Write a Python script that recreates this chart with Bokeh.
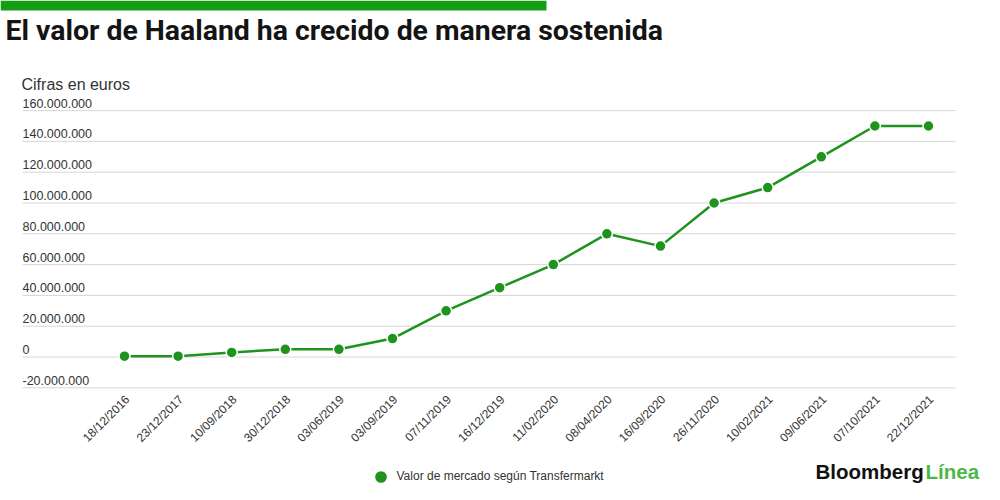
import math
from bokeh.plotting import figure
from bokeh.models import (Range1d, Label, BoxAnnotation, Legend, LegendItem,
                          ColumnDataSource)
from bokeh.core.properties import value
from bokeh.embed import file_html
from bokeh.resources import INLINE

# ---------------- data ----------------
fechas = ["18/12/2016", "23/12/2017", "10/09/2018", "30/12/2018", "03/06/2019",
          "03/09/2019", "07/11/2019", "16/12/2019", "11/02/2020", "08/04/2020",
          "16/09/2020", "26/11/2020", "10/02/2021", "09/06/2021", "07/10/2021",
          "22/12/2021"]
valores = [500000, 500000, 3000000, 5000000, 5000000,
           12000000, 30000000, 45000000, 60000000, 80000000,
           72000000, 100000000, 110000000, 130000000, 150000000,
           150000000]
y_ticks = [-20000000, 0, 20000000, 40000000, 60000000, 80000000,
           100000000, 120000000, 140000000, 160000000]
y_tick_labels = ["-20.000.000", "0", "20.000.000", "40.000.000", "60.000.000",
                 "80.000.000", "100.000.000", "120.000.000", "140.000.000",
                 "160.000.000"]
titulo = "El valor de Haaland ha crecido de manera sostenida"
subtitulo = "Cifras en euros"
serie = "Valor de mercado según Transfermarkt"

GREEN = "#1e931e"
BAR_GREEN = "#149e14"
TEXT = "#333333"
FONT = "Liberation Sans"

W, H = 984, 484
# whole canvas is the frame; linear px <-> data mapping
PX0, PXS = 124.0, 53.6          # canvas x of first point, px per category
PY0, PYS = 356.5, 1.54e-6       # canvas y of zero, px per euro

X0, X1 = (0 - PX0) / PXS, (W - PX0) / PXS
Y1, Y0 = PY0 / PYS, -(H - PY0) / PYS

p = figure(width=W, height=H, output_backend="svg", toolbar_location=None,
           x_range=Range1d(X0, X1), y_range=Range1d(Y0, Y1),
           min_border=0, background_fill_color="white",
           border_fill_color="white")
p.outline_line_color = None
p.axis.visible = False
p.grid.visible = False


def dx(px):
    return X0 + px / PXS


def dy(py):
    return Y1 - py / PYS


GL, GR = 22, 955   # gridline extent (canvas px)

# gridlines
grid_src = ColumnDataSource(dict(x0=[dx(GL)] * len(y_ticks),
                                 x1=[dx(GR)] * len(y_ticks), y=y_ticks,
                                 t=y_tick_labels))
p.segment(x0="x0", y0="y", x1="x1", y1="y", source=grid_src,
          line_color="#d6d6d6", line_width=1)
# y tick labels above gridlines
p.text(x="x0", y="y", text="t", source=grid_src, text_font=value(FONT),
       text_font_size="12.5px", text_color=TEXT, text_align="left",
       text_baseline="bottom", y_offset=-3)

xs = list(range(len(fechas)))

# x tick labels, rotated 45 degrees
date_src = ColumnDataSource(dict(x=xs, y=[dy(397)] * len(xs), t=fechas))
p.text(x="x", y="y", text="t", source=date_src, angle=math.pi / 4,
       text_font=value(FONT), text_font_size="12px", text_color=TEXT,
       text_align="right", text_baseline="middle", x_offset=3)

# series
src = ColumnDataSource(dict(x=xs, y=valores))
p.line(x="x", y="y", source=src, line_color=GREEN, line_width=2.5)
pts = p.scatter(x="x", y="y", source=src, size=11, fill_color=GREEN,
                line_color="white", line_width=1.5)

# top green bar
p.add_layout(BoxAnnotation(left=dx(0), right=dx(546), top=dy(0), bottom=dy(10),
                           fill_color=BAR_GREEN, fill_alpha=1, line_color=None))

# title and subtitle
p.add_layout(Label(x=dx(5), y=dy(29.5), text=titulo, text_font="Roboto",
                   text_font_style="bold", text_font_size="28.4px",
                   text_color="#141414", text_baseline="middle"))
p.add_layout(Label(x=dx(21), y=dy(83.5), text=subtitulo, text_font=FONT,
                   text_font_size="16px", text_color=TEXT,
                   text_baseline="middle"))

# logo
p.add_layout(Label(x=dx(815), y=dy(471), text="Bloomberg", text_font=FONT,
                   text_font_style="bold", text_font_size="20.5px",
                   text_color="#111111", text_baseline="middle"))
p.add_layout(Label(x=dx(925), y=dy(471), text="Línea", text_font=FONT,
                   text_font_style="bold", text_font_size="20.5px",
                   text_color="#4cb848", text_baseline="middle"))

# legend
legend = Legend(items=[LegendItem(label=serie, renderers=[pts])],
                location=(363.5, -8.5),
                glyph_width=33, glyph_height=33, label_standoff=0,
                padding=0, margin=0, border_line_color=None,
                background_fill_alpha=0, label_text_font=FONT,
                label_text_font_size="12px", label_text_color=TEXT)
p.add_layout(legend)

open("out.html", "w").write(file_html(p, INLINE))
